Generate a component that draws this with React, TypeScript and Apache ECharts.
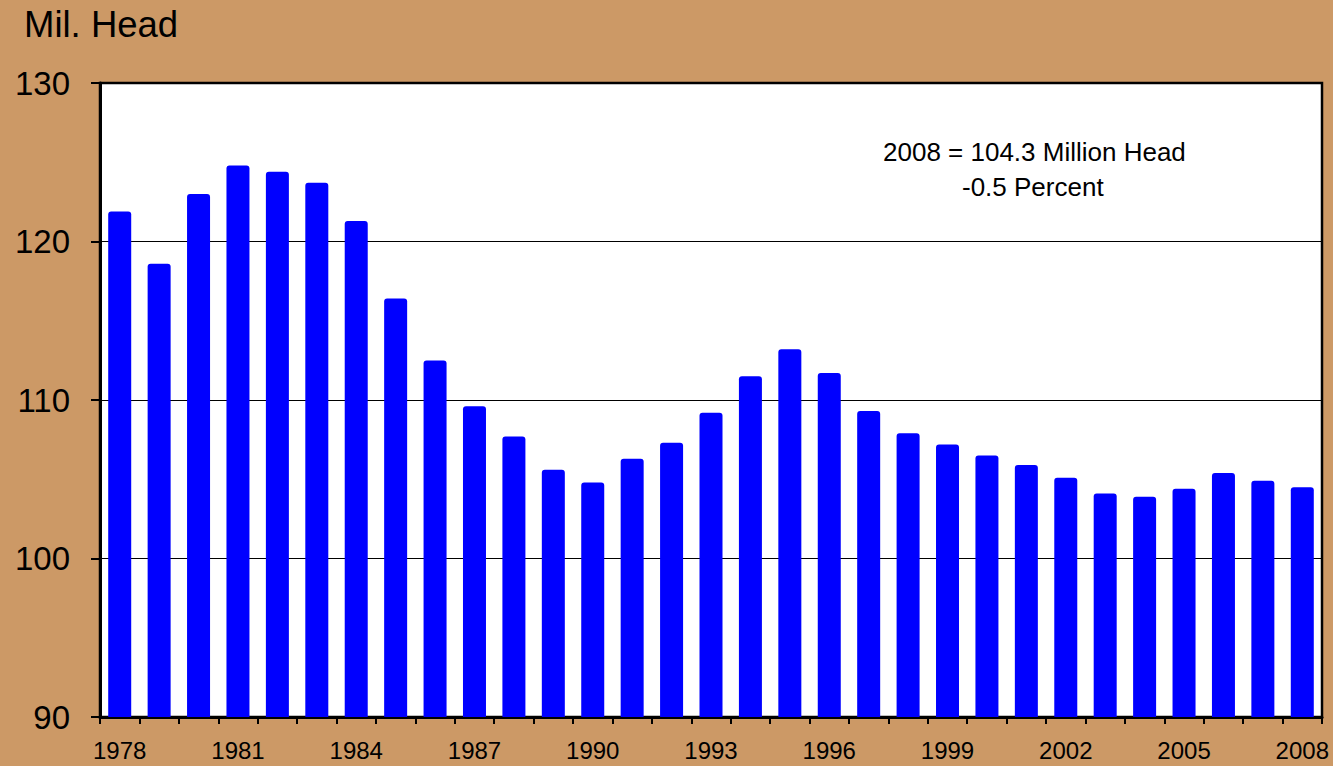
import React, { useEffect, useRef } from "react";
import * as echarts from "echarts";

const years = [
  "1978", "1979", "1980", "1981", "1982", "1983", "1984", "1985", "1986", "1987",
  "1988", "1989", "1990", "1991", "1992", "1993", "1994", "1995", "1996", "1997",
  "1998", "1999", "2000", "2001", "2002", "2003", "2004", "2005", "2006", "2007", "2008",
];
const headMillions = [
  121.9, 118.6, 123.0, 124.8, 124.4, 123.7, 121.3, 116.4, 112.5, 109.6,
  107.7, 105.6, 104.8, 106.3, 107.3, 109.2, 111.5, 113.2, 111.7, 109.3,
  107.9, 107.2, 106.5, 105.9, 105.1, 104.1, 103.9, 104.4, 105.4, 104.9, 104.5,
];
const yTicks = [90, 100, 110, 120, 130];
const unitLabel = "Mil. Head";
const noteLines = ["2008 = 104.3 Million Head", "-0.5 Percent"];

export default function App() {
  const ref = useRef<HTMLDivElement>(null);
  useEffect(() => {
    if (!ref.current) return;
    const chart = echarts.init(ref.current, null, { renderer: "svg" });
    const font = "Liberation Sans";
    chart.setOption({
      animation: false,
      backgroundColor: "#CC9966",
      textStyle: { fontFamily: font },
      title: {
        text: unitLabel,
        left: 24,
        top: 6,
        padding: 0,
        textStyle: { fontSize: 36.5, fontWeight: "normal", color: "#000", fontFamily: font },
      },
      grid: {
        left: 100,
        right: 11,
        top: 83,
        bottom: 49,
        show: true,
        backgroundColor: "#FFFFFF",
        borderColor: "#000",
        borderWidth: 2.5,
      },
      graphic: [
        {
          type: "text",
          left: 883,
          top: 139,
          style: { text: noteLines[0], fontSize: 26, fill: "#000", fontFamily: font },
        },
        {
          type: "text",
          left: 962,
          top: 174,
          style: { text: noteLines[1], fontSize: 26, fill: "#000", fontFamily: font },
        },
      ],
      xAxis: {
        type: "category",
        data: years,
        boundaryGap: true,
        axisLine: { show: true, lineStyle: { color: "#000", width: 3 } },
        axisTick: { show: true, interval: 0, length: 7, lineStyle: { color: "#000", width: 2 } },
        axisLabel: {
          interval: 2,
          fontSize: 24,
          color: "#000",
          margin: 21,
          fontFamily: font,
        },
        splitLine: { show: false },
      },
      yAxis: {
        type: "value",
        min: yTicks[0],
        max: yTicks[yTicks.length - 1],
        interval: 10,
        axisLine: { show: true, lineStyle: { color: "#000", width: 3 } },
        axisTick: { show: true, length: 9, lineStyle: { color: "#000", width: 2 } },
        axisLabel: { fontSize: 33, color: "#000", margin: 30, fontFamily: font },
        splitLine: { show: true, lineStyle: { color: "#000", width: 1 } },
      },
      series: [
        {
          type: "bar",
          data: headMillions,
          barWidth: 23,
          itemStyle: { color: "#0000FF", borderRadius: [3, 3, 0, 0] },
        },
      ],
    });
    return () => chart.dispose();
  }, []);
  return (
    <div
      ref={ref}
      style={{ position: "fixed", left: 0, top: 0, width: 1333, height: 766 }}
    />
  );
}
